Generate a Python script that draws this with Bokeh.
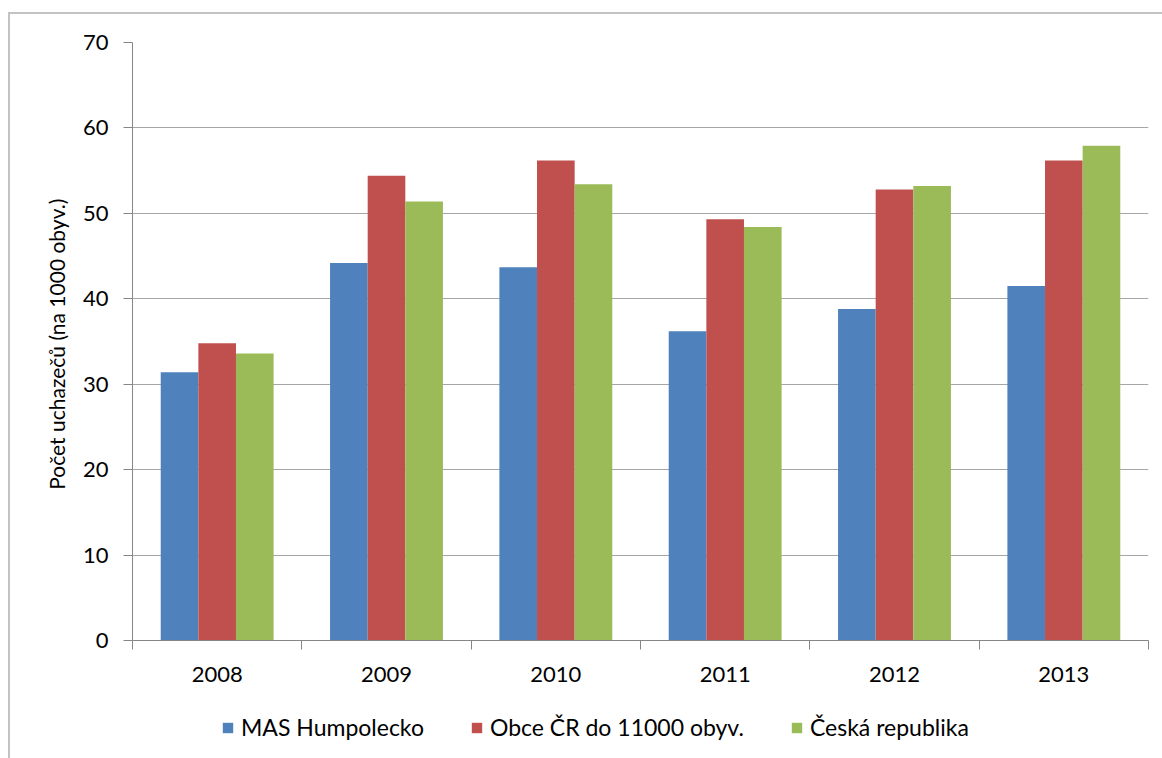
from bokeh.plotting import figure
from bokeh.layouts import column
from bokeh.models import FixedTicker, Legend, LegendItem, Range1d
from bokeh.embed import file_html
from bokeh.resources import INLINE

years = ["2008", "2009", "2010", "2011", "2012", "2013"]
mas_humpolecko = [31.4, 44.2, 43.7, 36.2, 38.8, 41.5]
obce_cr = [34.8, 54.4, 56.2, 49.3, 52.8, 56.2]
ceska_republika = [33.6, 51.4, 53.4, 48.4, 53.2, 57.9]
series_names = ["MAS Humpolecko", "Obce ČR do 11000 obyv.", "Česká republika"]
y_ticks = [0, 10, 20, 30, 40, 50, 60, 70]
y_title = "Počet uchazečů  (na 1000 obyv.)"

colors = ["#4F81BD", "#C0504D", "#9BBB59"]
FONT = "Lato"
AXIS_COLOR = "#868686"
GRID_COLOR = "#a6a6a6"
BORDER = "#c3c3c3"

p = figure(width=1162, height=700, output_backend="svg", toolbar_location=None,
           x_range=Range1d(0, len(years)), y_range=Range1d(y_ticks[0], y_ticks[-1]),
           min_border_left=132, min_border_right=14, min_border_top=42,
           min_border_bottom=60)
p.outline_line_color = None
p.background_fill_color = "white"
p.border_fill_color = None
p.styles = {
    "background": (f"linear-gradient({BORDER},{BORDER}) 8px 12px / 2px 100% no-repeat, "
                   f"linear-gradient({BORDER},{BORDER}) 8px 12px / 100% 2px no-repeat, white"),
}

centers = [i + 0.5 for i in range(len(years))]
bw = 1 / 4.5
offsets = [-bw, 0.0, bw]
series = [mas_humpolecko, obce_cr, ceska_republika]
for vals, off, col in zip(series, offsets, colors):
    p.vbar(x=[c + off for c in centers], top=vals, bottom=0, width=bw,
           fill_color=col, line_color=None)

# x axis: labels at centres, ticks at category boundaries
xa = p.xaxis[0]
xa.ticker = FixedTicker(ticks=centers, minor_ticks=list(range(len(years) + 1)))
xa.major_label_overrides = {c: y for c, y in zip(centers, years)}
xa.major_tick_out = 0
xa.major_tick_in = 0
xa.minor_tick_out = 9
xa.minor_tick_in = 0
xa.minor_tick_line_color = AXIS_COLOR
xa.axis_line_color = AXIS_COLOR
xa.major_label_text_font = FONT
xa.major_label_text_font_size = "22px"
xa.major_label_text_color = "#000000"
xa.major_label_standoff = 17

ya = p.yaxis[0]
ya.ticker = FixedTicker(ticks=y_ticks)
ya.major_tick_out = 9
ya.major_tick_in = 0
ya.minor_tick_out = 0
ya.minor_tick_in = 0
ya.major_tick_line_color = AXIS_COLOR
ya.axis_line_color = AXIS_COLOR
ya.major_label_text_font = FONT
ya.major_label_text_font_size = "22px"
ya.major_label_text_color = "#000000"
ya.major_label_standoff = 15
ya.axis_label = y_title
ya.axis_label_text_font = FONT
ya.axis_label_text_font_size = "21px"
ya.axis_label_text_font_style = "normal"
ya.axis_label_text_color = "#000000"
ya.axis_label_standoff = 11

p.xgrid.grid_line_color = None
p.ygrid.ticker = FixedTicker(ticks=y_ticks)
p.ygrid.grid_line_color = GRID_COLOR
p.ygrid.grid_line_width = 1.2

# legend strip below the chart (its frame is aligned with the chart's frame)
pl = figure(width=1162, height=58, output_backend="svg", toolbar_location=None,
            x_range=Range1d(0, len(years)), y_range=Range1d(y_ticks[0], y_ticks[-1]),
            x_axis_location=None, y_axis_location=None,
            min_border_left=132, min_border_right=14, min_border_top=0,
            min_border_bottom=0)
pl.outline_line_color = None
pl.grid.grid_line_color = None
pl.background_fill_color = None
pl.border_fill_color = None
pl.styles = {
    "background": f"linear-gradient({BORDER},{BORDER}) 8px 0px / 2px 100% no-repeat, white",
}
# legend proxies: same series, drawn below the visible range of this strip
leg_renderers = []
for vals, off, col in zip(series, offsets, colors):
    leg_renderers.append(pl.vbar(x=[c + off for c in centers], top=[-v for v in vals],
                                 bottom=-100, width=bw, fill_color=col, line_color=None))

legend = Legend(items=[LegendItem(label=n, renderers=[r]) for n, r in zip(series_names, leg_renderers)],
                orientation="horizontal", location=(89, 17))
legend.glyph_width = 13
legend.glyph_height = 13
legend.label_standoff = 7
legend.spacing = 46
legend.padding = 0
legend.margin = 0
legend.border_line_color = None
legend.background_fill_alpha = 0
legend.label_text_font = FONT
legend.label_text_font_size = "23px"
legend.label_text_color = "#000000"
pl.add_layout(legend, "center")

layout = column(p, pl, spacing=0)
open("out.html", "w").write(file_html(layout, INLINE))
